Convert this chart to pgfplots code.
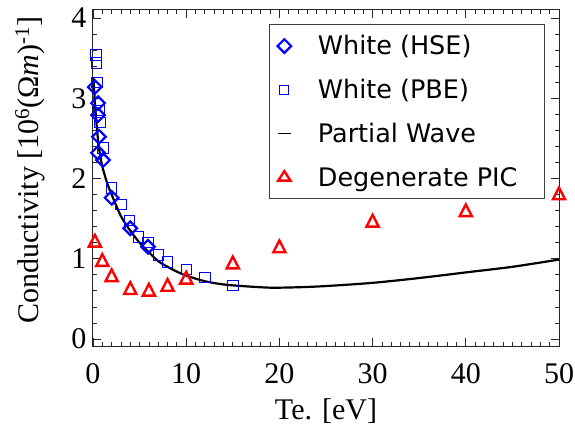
\documentclass[border=0pt]{standalone}
\usepackage{pgfplots}
\pgfplotsset{compat=1.18}
\usepackage{fontspec}
\setmainfont{Liberation Serif}
\newfontfamily\legfont{DejaVu Sans}
\begin{document}
\begin{tikzpicture}
\begin{axis}[
 scale only axis, width=466pt, height=336pt,
 xmin=0, xmax=50, ymin=-0.087, ymax=4.1,
 xtick={0,10,20,30,40,50}, ytick={0,1,2,3,4},
 minor x tick num=9, minor y tick num=4,
 tick align=inside, major tick length=8pt, minor tick length=4pt,
 axis line style={line width=1pt, black!85},
 every tick/.style={black!85, line width=0.8pt},
 tick label style={font=\fontsize{30}{34}\selectfont},
 /pgf/number format/assume math mode=true,
 xticklabel style={yshift=-14pt},
 yticklabel style={xshift=-3pt},
 xlabel={Te. [eV]},
 ylabel={Conductivity [10\textsuperscript{6}(Ω\textit{m})\textsuperscript{-1}]},
 label style={font=\fontsize{30}{34}\selectfont},
 xlabel style={at={(axis description cs:0.5,-0.193)}, anchor=center},
 ylabel style={at={(axis description cs:-0.1352,0.524)}, anchor=center},
 legend style={draw=black!75, line width=1pt, at={(0.97,0.958)}, anchor=north east,
   font=\legfont\fontsize{25.5}{30}\selectfont, row sep=19pt, inner xsep=8pt, inner ysep=9pt},
 legend cell align=left,
]
\addplot[only marks, blue, mark=square, mark size=4.8pt, line width=2.2pt, mark options={rotate=45},
  legend image code/.code={\path[draw=none, fill=none, mark=none] (0,0) -- (36pt,0); \draw plot coordinates {(4.5pt,0)};}] coordinates {
(0.2,3.14) (0.54,2.94) (0.54,2.79) (0.64,2.52) (0.54,2.32) (1.07,2.23) (2,1.76) (4,1.38) (5.9,1.15)};
\addlegendentry{White (HSE)}
\addplot[only marks, blue, mark=square, mark size=5.2pt, line width=0.9pt,
  legend image code/.code={\path[draw=none, fill=none, mark=none] (0,0) -- (36pt,0); \draw[mark size=4.5pt] plot coordinates {(4.5pt,0)};}] coordinates {
(0.3,3.54) (0.4,3.44) (0.43,3.20) (0.64,2.85) (0.75,2.70) (1.07,2.38) (2,1.88) (3,1.68) (3.9,1.48) (4.9,1.27) (5.9,1.20) (7,1.05) (8,0.96) (10,0.87) (12,0.77) (15,0.67)};
\addlegendentry{White (PBE)}
\addplot[black, line width=2.2pt, smooth,
  legend image code/.code={\path[draw=none, fill=none, mark=none] (0,0) -- (36pt,0); \draw[black, line width=1pt] (-2pt,0) -- (11pt,0);}] coordinates {
(0.05,3.25) (0.2,2.95) (0.4,2.65) (0.6,2.42) (0.8,2.27) (1,2.15) (1.5,1.95) (2,1.8) (3,1.53) (4,1.35) (5,1.2) (6,1.08) (7,0.97) (8,0.9) (9,0.84) (10,0.79) (12,0.72) (14,0.68) (16,0.66) (19,0.64) (22,0.645) (25,0.66) (30,0.70) (35,0.76) (40,0.83) (45,0.9) (50,0.99)};
\addlegendentry{Partial Wave}
\addplot[only marks, red, mark=triangle, mark size=7pt, line width=2.4pt, mark options={yscale=1.12},
  legend image code/.code={\path[draw=none, fill=none, mark=none] (0,0) -- (36pt,0); \draw[mark options={yscale=0.9}] plot coordinates {(4.5pt,0)};}] coordinates {
(0.2,1.2) (1,0.96) (2,0.77) (4,0.61) (6,0.59) (8,0.65) (10,0.74) (15,0.93) (20,1.13) (30,1.45) (40,1.58) (50,1.79)};
\addlegendentry{Degenerate PIC\hspace*{17pt}}
\end{axis}
\pgfresetboundingbox
\path ([shift={(-93pt,-93pt)}]current axis.south west) rectangle ([shift={(16pt,10pt)}]current axis.north east);
\end{tikzpicture}
\end{document}
